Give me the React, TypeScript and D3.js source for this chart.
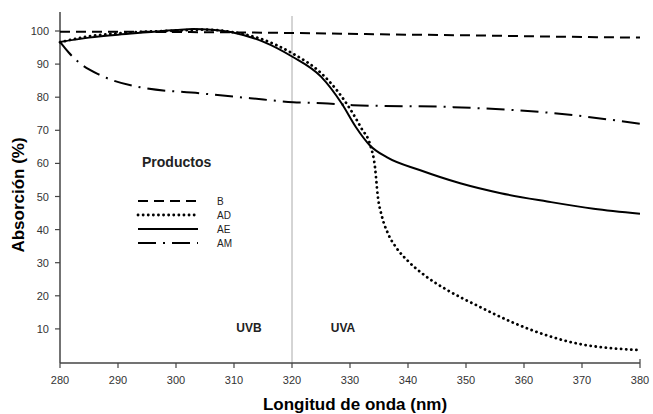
import React from 'react';
import * as d3 from 'd3';

const W = 653;
const H = 414;

const xTicks = [280, 290, 300, 310, 320, 330, 340, 350, 360, 370, 380];
const yTicks = [10, 20, 30, 40, 50, 60, 70, 80, 90, 100];

// [wavelength, absorption]
const seriesB: [number, number][] = [
  [280, 99.8], [300, 99.7], [320, 99.4], [335, 99.0], [350, 98.7], [365, 98.3], [380, 98.0],
];
const seriesAD: [number, number][] = [
  [280, 96.6], [285, 98.4], [290, 99.3], [300, 100.1], [305, 100.4], [310, 99.6], [315, 97.4],
  [320, 93.3], [325, 87.3], [328, 81.5], [330, 76.5], [332, 70.5], [333.5, 65.5], [334.3, 59],
  [334.8, 50], [335.5, 44], [336.5, 39], [338, 34.5], [340, 30.5], [343, 26], [347, 21.5],
  [352, 17], [358, 12], [364, 8], [370, 5.3], [375, 4.2], [380, 3.6],
];
const seriesAE: [number, number][] = [
  [280, 96.7], [285, 98.0], [290, 98.9], [295, 99.6], [300, 100.3], [303, 100.6], [306, 100.4],
  [310, 99.5], [315, 96.8], [320, 92.3], [325, 86.2], [328.6, 78], [331, 71], [333.4, 65.5],
  [336.4, 61.8], [342, 58], [349, 54], [356, 51], [364, 48.5], [372, 46.3], [380, 44.8],
];
const seriesAM: [number, number][] = [
  [280, 96.7], [281.5, 93.5], [283.4, 90.3], [286.9, 86.7], [293.8, 83], [304, 81.2],
  [312.8, 79.7], [320.2, 78.5], [325.3, 78.2], [330.5, 77.6], [347.8, 77], [365, 75.2], [380, 72],
];

const products = ['B', 'AD', 'AE', 'AM'];
const dashes: Record<string, { dash: string; cap: string; width: number }> = {
  B: { dash: '10 6', cap: 'butt', width: 2 },
  AD: { dash: '0.1 5', cap: 'round', width: 2.8 },
  AE: { dash: '', cap: 'butt', width: 2 },
  AM: { dash: '18 7 2 7', cap: 'butt', width: 2 },
};

const x = d3.scaleLinear().domain([280, 380]).range([60, 640]);
const y = d3.scaleLinear().domain([0, 100]).range([362, 31]);

const line = d3
  .line<[number, number]>()
  .x((d) => x(d[0]))
  .y((d) => y(d[1]))
  .curve(d3.curveMonotoneX);

const data: Record<string, [number, number][]> = {
  B: seriesB,
  AD: seriesAD,
  AE: seriesAE,
  AM: seriesAM,
};

export default function App() {
  const font = '"Liberation Sans", Arial, sans-serif';
  const axisY = 363;
  return (
    <svg
      width={W}
      height={H}
      style={{ position: 'absolute', left: 0, top: 0, background: '#fff' }}
      fontFamily={font}
    >
      {/* UVB / UVA divider */}
      <line x1={x(320)} x2={x(320)} y1={16} y2={axisY} stroke="#aaa" strokeWidth={1} />

      {/* axes */}
      <line x1={60} x2={60} y1={12} y2={axisY} stroke="#444" strokeWidth={1.5} />
      <line x1={60} x2={x(380)} y1={axisY} y2={axisY} stroke="#444" strokeWidth={1.5} />
      {yTicks.map((t) => (
        <g key={t}>
          <line x1={55} x2={60} y1={y(t)} y2={y(t)} stroke="#444" strokeWidth={1.2} />
          <text x={49} y={y(t) + 4} textAnchor="end" fontSize={11} fill="#333">
            {t}
          </text>
        </g>
      ))}
      {xTicks.map((t) => (
        <g key={t}>
          <line
            x1={x(t)}
            x2={x(t)}
            y1={t === 380 ? axisY - 4 : axisY}
            y2={axisY + 5}
            stroke="#444"
            strokeWidth={1.2}
          />
          <text x={x(t)} y={384} textAnchor="middle" fontSize={11} fill="#333">
            {t}
          </text>
        </g>
      ))}

      {/* curves */}
      {products.map((p) => (
        <path
          key={p}
          d={line(data[p]) || ''}
          fill="none"
          stroke="#000"
          strokeWidth={dashes[p].width}
          strokeDasharray={dashes[p].dash}
          strokeLinecap={dashes[p].cap as any}
        />
      ))}

      {/* legend */}
      <text x={142} y={167} fontSize={14} fontWeight="bold" fill="#222">
        Productos
      </text>
      {products.map((p, i) => {
        const ly = 201 + i * 14;
        return (
          <g key={p}>
            <line
              x1={138}
              x2={198}
              y1={ly}
              y2={ly}
              stroke="#000"
              strokeWidth={dashes[p].width}
              strokeDasharray={dashes[p].dash}
              strokeLinecap={dashes[p].cap as any}
            />
            <text x={217} y={ly + 4} fontSize={10} fill="#222">
              {p}
            </text>
          </g>
        );
      })}

      <text x={249} y={332} textAnchor="middle" fontSize={12} fontWeight="bold" fill="#222">
        UVB
      </text>
      <text x={343} y={332} textAnchor="middle" fontSize={12} fontWeight="bold" fill="#222">
        UVA
      </text>

      {/* axis titles */}
      <text
        transform="translate(24,195) rotate(-90)"
        textAnchor="middle"
        fontSize={17}
        fontWeight="bold"
        fill="#000"
      >
        Absorción (%)
      </text>
      <text x={355} y={410} textAnchor="middle" fontSize={17} fontWeight="bold" fill="#000">
        Longitud de onda (nm)
      </text>
    </svg>
  );
}
